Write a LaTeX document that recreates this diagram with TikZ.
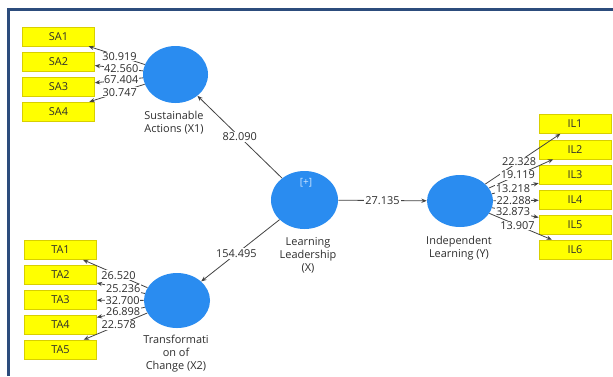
\documentclass[tikz,border=0pt]{standalone}
\usepackage{fontspec}
\setmainfont{Open Sans}
\usetikzlibrary{shapes.geometric,arrows.meta}
\definecolor{lvblue}{HTML}{2A8CF0}
\definecolor{indyellow}{HTML}{FFFF00}
\definecolor{boxedge}{HTML}{D8CF00}
\definecolor{frameblue}{HTML}{2C4C7C}
\definecolor{txt}{HTML}{2E2E2E}
\definecolor{plus}{HTML}{CFE6FF}
\begin{document}
\begin{tikzpicture}[x=0.75pt,y=-0.75pt,
  every node/.style={font=\fontsize{8.2}{9.75}\selectfont, text=txt},
  lv/.style={ellipse, fill=lvblue, inner sep=0pt},
  ind/.style={rectangle, fill=indyellow, draw=boxedge, line width=0.4pt,
    minimum width=54pt, minimum height=14.25pt, inner sep=0pt},
  lvlabel/.style={align=center, inner sep=0pt},
  conn/.style={draw=txt!90, line width=0.6pt, -{Stealth[length=4pt,width=3.2pt]}},
  load/.style={fill=white, inner sep=0.5pt, pos=0.45},
  coef/.style={fill=white, inner sep=1pt, midway}]
\useasboundingbox (0,0) rectangle (613,376);
\fill[white] (0,0) rectangle (613,376);
\draw[frameblue, line width=2.6pt] (8.5,376) -- (8.5,9.5) -- (613,9.5);

% latent variables
\node[lv, minimum width=48.75pt, minimum height=42.75pt] (X1) at (175.5,74.5) {};
\node[lv, minimum width=49.5pt, minimum height=41.25pt] (X2) at (177,300.5) {};
\node[lv, minimum width=50.25pt, minimum height=43.5pt] (LL) at (304.5,200) {};
\node[lv, minimum width=49.5pt, minimum height=39pt] (IL) at (460,201) {};
\node[text=plus, inner sep=0pt, font=\fontsize{7.5}{9}\selectfont] (plus) at (306,183) {[+]};

\node[lvlabel] (X1lab) at (174,123) {Sustainable\\Actions (X1)};
\node[lvlabel] (LLlab) at (308,255) {Learning\\Leadership\\(X)};
\node[lvlabel] (ILlab) at (459,248.5) {Independent\\Learning (Y)};
\node[lvlabel] (X2lab) at (176,354) {Transformati\\on of\\Change (X2)};

% indicators
\foreach \i/\y in {1/36.5,2/61.5,3/86.5,4/111.5}
  \node[ind] (SA\i) at (58.5,\y) {SA\i};
\foreach \i/\y in {1/250,2/275,3/300,4/325,5/349.5}
  \node[ind] (TA\i) at (60.5,\y) {TA\i};
\foreach \i/\y in {1/124,2/149.5,3/175,4/200,5/225,6/249.5}
  \node[ind] (IL\i) at (575,\y) {IL\i};

% structural paths
\draw[conn] (LL) -- node[coef] (c1) {82.090} (X1);
\draw[conn] (LL) -- node[coef, pos=0.55] (c2) {154.495} (X2);
\draw[conn] (LL) -- node[coef] (c3) {27.135} (IL);

% loadings
\draw[conn] (X1) -- node[load] (l1) {30.919} (SA1);
\draw[conn] (X1) -- node[load] (l2) {42.560} (SA2);
\draw[conn] (X1) -- node[load] (l3) {67.404} (SA3);
\draw[conn] (X1) -- node[load] (l4) {30.747} (SA4);

\draw[conn] (X2) -- node[load] (t1) {26.520} (TA1);
\draw[conn] (X2) -- node[load] (t2) {25.236} (TA2);
\draw[conn] (X2) -- node[load] (t3) {32.700} (TA3);
\draw[conn] (X2) -- node[load] (t4) {26.898} (TA4);
\draw[conn] (X2) -- node[load] (t5) {22.578} (TA5);

\draw[conn] (IL) -- node[load] (i1) {22.328} (IL1);
\draw[conn] (IL) -- node[load] (i2) {19.119} (IL2);
\draw[conn] (IL) -- node[load] (i3) {13.218} (IL3);
\draw[conn] (IL) -- node[load] (i4) {22.288} (IL4);
\draw[conn] (IL) -- node[load] (i5) {32.873} (IL5);
\draw[conn] (IL) -- node[load] (i6) {13.907} (IL6);
\end{tikzpicture}
\end{document}
